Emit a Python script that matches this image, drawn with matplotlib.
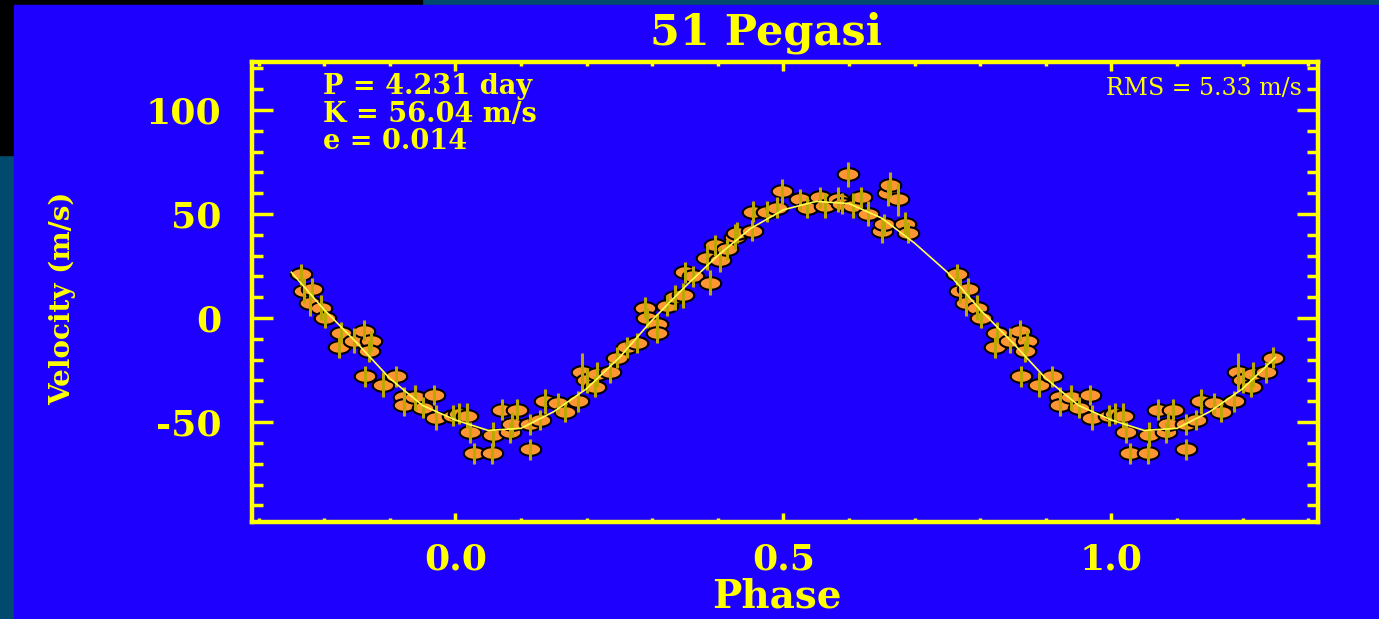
import numpy as np
import matplotlib
matplotlib.use("Agg")
import matplotlib.pyplot as plt
from matplotlib.patches import Rectangle
from matplotlib.ticker import MultipleLocator, FixedFormatter, FixedLocator

# measured points, phase folded to 0..1
phase = [0.005, 0.018, 0.022, 0.028, 0.056, 0.058, 0.071, 0.084, 0.087, 0.094,
         0.114, 0.114, 0.129, 0.137, 0.157, 0.167, 0.187, 0.193, 0.200, 0.213,
         0.216, 0.236, 0.247, 0.262, 0.277, 0.289, 0.292, 0.307, 0.307, 0.322,
         0.335, 0.347, 0.350, 0.362, 0.388, 0.383, 0.396, 0.403, 0.414, 0.426,
         0.430, 0.452, 0.454, 0.475, 0.490, 0.498, 0.525, 0.536, 0.556, 0.563,
         0.583, 0.589, 0.598, 0.606, 0.619, 0.629, 0.651, 0.654, 0.659, 0.662,
         0.674, 0.685, 0.690, 0.764, 0.769, 0.781, 0.779, 0.795, 0.802, 0.825,
         0.822, 0.845, 0.860, 0.871, 0.868, 0.863, 0.890, 0.909, 0.921, 0.921,
         0.939, 0.951, 0.967, 0.971, 0.997]
velocity = [-46, -47, -55, -65, -65, -56, -44, -55, -51, -44,
            -63, -51, -49, -40, -41, -45, -40, -26, -30, -33,
            -27, -26, -19, -14, -12, 5, 0, -3, -7, 6,
            10, 11, 22, 20, 17, 29, 35, 28, 33, 39,
            41, 42, 51, 51, 53, 61, 57, 53, 58, 54,
            57, 55, 69, 54, 58, 50, 42, 45, 60, 64,
            57, 45, 41, 21, 13, 14, 7, 5, 0, -7,
            -14, -11, -6, -11, -16, -28, -32, -28, -38, -42,
            -38, -43, -37, -48, -47]
error = [5, 6, 5, 5, 5, 6, 5, 5, 6, 5,
         5, 5, 5, 6, 5, 5, 5, 9, 6, 5,
         6, 5, 5, 5, 5, 5, 5, 5, 5, 5,
         6, 6, 5, 5, 6, 6, 5, 6, 5, 6,
         5, 5, 5, 5, 5, 6, 5, 5, 5, 6,
         6, 5, 6, 6, 5, 6, 6, 5, 6, 6,
         8, 6, 5, 5, 6, 5, 6, 6, 5, 5,
         5, 6, 5, 5, 5, 5, 6, 5, 5, 5,
         6, 5, 5, 6, 5]

# orbit fit, phase 0..0.95
fit_phase = [0.00, 0.05, 0.10, 0.15, 0.20, 0.25, 0.30, 0.35, 0.40, 0.45,
             0.50, 0.55, 0.60, 0.65, 0.70, 0.75, 0.80, 0.85, 0.90, 0.95]
fit_vel = [-49, -54, -53, -45, -34, -19, -1, 15, 30, 43,
           52, 56, 55, 48, 36, 22, 4, -12, -29, -42]

title = "51 Pegasi"
params = ["P = 4.231 day", "K = 56.04 m/s", "e = 0.014"]
rms_text = "RMS = 5.33 m/s"
xticks = [0.0, 0.5, 1.0]
xticklabels = ["0.0", "0.5", "1.0"]
yticks = [-50, 0, 50, 100]
yticklabels = ["-50", "0", "50", "100"]

BLUE = "#1E00FF"
YEL = "#FFFF00"
TEAL = "#004A70"

W, H = 1379, 619
def fx(x):
    return x / W
def fy(y):
    return 1 - y / H

plt.rcParams['font.family'] = ['DejaVu Serif']

fig = plt.figure(figsize=(W / 100, H / 100), dpi=100)
fig.patch.set_facecolor(TEAL)
# black corner and blue slide background, behind the axes
fig.patches.append(Rectangle((0, fy(155)), fx(422), 1 - fy(155), transform=fig.transFigure,
                             color="black", zorder=-2))
fig.patches.append(Rectangle((fx(14), 0), 1 - fx(14), fy(5), transform=fig.transFigure,
                             color=BLUE, zorder=-1))

ax = fig.add_axes([fx(252), fy(522), fx(1318) - fx(252), fy(62) - fy(522)])
ax.patch.set_alpha(0)

# repeat data past 0 and 1, as on the original
p = np.array(phase)
v = np.array(velocity)
e = np.array(error)
px = np.concatenate([p - 1, p, p + 1])
pv = np.concatenate([v, v, v])
pe = np.concatenate([e, e, e])
keep = (px >= -0.25) & (px <= 1.25)
px, pv, pe = px[keep], pv[keep], pe[keep]

fp = np.array(fit_phase)
fv = np.array(fit_vel)
cx = np.concatenate([fp - 1, fp, fp + 1, [2.0]])
cv = np.concatenate([fv, fv, fv, [fv[0]]])
ck = (cx >= -0.25) & (cx <= 1.25)

t = np.linspace(0, 2 * np.pi, 40)
ellipse = np.column_stack([1.7 * np.cos(t), np.sin(t)])
ax.plot(px, pv, ls="none", marker=ellipse, ms=15.5, mfc="#FF9633", mec="black",
        mew=1.5, zorder=2)
ax.vlines(px, pv - pe, pv + pe, color="#BBA800", lw=2.2, zorder=3)
ax.plot(cx[ck], cv[ck], color="#FFFF50", lw=1.2, zorder=4)

ax.set_xlim(-0.31, 1.315)
ax.set_ylim(-98, 123)

for s in ax.spines.values():
    s.set_color(YEL)
    s.set_linewidth(3.2)

ax.xaxis.set_major_locator(FixedLocator(xticks))
ax.xaxis.set_major_formatter(FixedFormatter(xticklabels))
ax.xaxis.set_minor_locator(MultipleLocator(0.1))
ax.yaxis.set_major_locator(FixedLocator(yticks))
ax.yaxis.set_major_formatter(FixedFormatter(yticklabels))
ax.yaxis.set_minor_locator(MultipleLocator(10))

ax.tick_params(which="both", direction="in", color=YEL, width=2.5,
               top=True, right=True, labelcolor=YEL, labelsize=26)
ax.tick_params(axis="x", which="major", length=6.5, pad=15)
ax.tick_params(axis="x", which="minor", length=3)
ax.tick_params(axis="y", which="major", length=15, pad=22)
ax.tick_params(axis="y", which="minor", length=8)
for lab in ax.get_xticklabels() + ax.get_yticklabels():
    lab.set_fontweight("bold")

fig.text(fx(766), fy(44), title, color=YEL, fontsize=31, fontweight="bold",
         ha="center", va="baseline")
fig.text(fx(777), fy(608), "Phase", color=YEL, fontsize=28, fontweight="bold",
         ha="center", va="baseline")
fig.text(fx(62), fy(298), "Velocity (m/s)", color=YEL, fontsize=20, fontweight="bold",
         rotation=90, ha="center", va="center")

for i, s in enumerate(params):
    fig.text(fx(323), fy(94 + 27.5 * i), s, color=YEL, fontsize=19.5, fontweight="bold",
             ha="left", va="baseline")
fig.text(fx(1302), fy(95), rms_text, color=YEL, fontsize=17, ha="right", va="baseline")

fig.savefig("out.png", dpi=100, facecolor=fig.get_facecolor())
plt.close(fig)
